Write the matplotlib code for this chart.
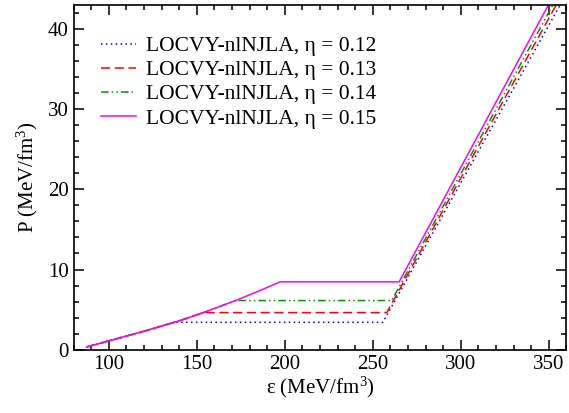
import matplotlib
matplotlib.use('Agg')
import matplotlib.pyplot as plt
from matplotlib.ticker import MultipleLocator

plt.rcParams['font.family'] = 'Liberation Serif'
plt.rcParams['mathtext.fontset'] = 'custom'
plt.rcParams['mathtext.rm'] = 'Liberation Serif'
plt.rcParams['mathtext.it'] = 'Liberation Serif:italic'

# shared hadronic branch (epsilon, P)
eps_had = [87.5, 100, 110, 120, 130, 141.4, 153.7, 172, 185, 197.3]
p_had = [0.35, 1.1, 1.7, 2.3, 2.95, 3.7, 4.63, 6.13, 7.3, 8.46]

labels = ['LOCVY-nlNJLA, η = 0.12', 'LOCVY-nlNJLA, η = 0.13',
          'LOCVY-nlNJLA, η = 0.14', 'LOCVY-nlNJLA, η = 0.15']
# mixed phase: plateau pressure, start and end energy density
p_mix = [3.42, 4.63, 6.13, 8.46]
eps_mix_start = [137, 153.7, 172, 197.3]
eps_mix_end = [255.7, 257.9, 260.7, 264.9]
# quark branch: energy density where P reaches 43
eps_quark_top = [356.4, 354.1, 352.2, 349.7]
p_top = 43

colors = ['#0000ff', '#ff0000', '#009900', '#ff00ff']
styles = [(0, (1, 2.2)), (0, (6, 3)), (0, (5, 2, 1, 2, 1, 2)), '-']

fig = plt.figure(figsize=(5.69, 4.13), dpi=100)
ax = fig.add_axes([0.1294, 0.1533, 0.8662, 0.8346])

for i in range(4):
    xs = [e for e in eps_had if e < eps_mix_start[i]]
    ys = [p for e, p in zip(eps_had, p_had) if e < eps_mix_start[i]]
    xs = xs + [eps_mix_start[i], eps_mix_end[i], eps_quark_top[i]]
    ys = ys + [p_mix[i], p_mix[i], p_top]
    ax.plot(xs, ys, color=colors[i], linestyle=styles[i], lw=1.1,
            label=labels[i])

ax.set_xlim(80, 360)
ax.set_ylim(0, 43)
ax.xaxis.set_major_locator(MultipleLocator(50))
ax.xaxis.set_minor_locator(MultipleLocator(10))
ax.yaxis.set_major_locator(MultipleLocator(10))
ax.yaxis.set_minor_locator(MultipleLocator(2))
ax.tick_params(which='both', direction='in', top=True, right=True,
               labelsize=15, width=1.1)
ax.tick_params(which='major', length=7)
ax.tick_params(which='minor', length=3.5)
for s in ax.spines.values():
    s.set_linewidth(1.2)

ax.set_xlabel('ε (MeV/fm$^{3}$)', fontsize=15, labelpad=1)
ax.set_ylabel('P (MeV/fm$^{3}$)', fontsize=15, labelpad=6)

ax.legend(loc='upper left', bbox_to_anchor=(0.055, 0.91), frameon=False,
          fontsize=15.5, handlelength=1.65, handletextpad=0.45,
          labelspacing=0.19, borderaxespad=0, borderpad=0)

fig.savefig('out.png', dpi=100)
